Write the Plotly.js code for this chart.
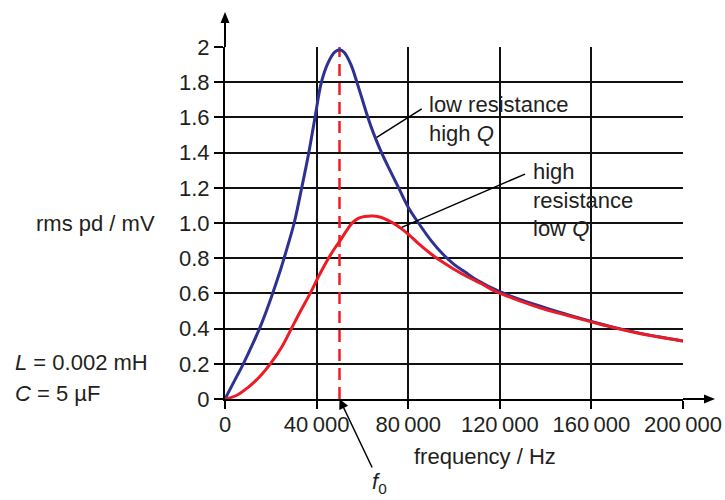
<!DOCTYPE html>
<html>
<head>
<meta charset="utf-8">
<script src="https://cdn.plot.ly/plotly-3.0.1.min.js"></script>
<style>html,body{margin:0;padding:0;background:#fff;}#chart{width:725px;height:500px;}</style>
</head>
<body>
<div id="chart"></div>
<script>
// ---- data ----
var lowRFreq = [0, 4000, 8000, 12000, 16000, 20000, 24000, 27000, 30200, 33500, 36600, 39300, 42100, 45000, 48000, 50000, 52000, 55000, 57600, 60000, 62400, 65000, 68500, 72000, 76000, 80000, 84500, 90000, 95000, 100000, 105000, 110000, 120000, 130000, 140000, 150000, 160000, 170000, 180000, 190000, 200000];
var lowRVolt = [0, 0.10, 0.20, 0.31, 0.43, 0.57, 0.724, 0.853, 1.00, 1.20, 1.40, 1.60, 1.80, 1.91, 1.972, 1.985, 1.97, 1.90, 1.80, 1.70, 1.60, 1.505, 1.395, 1.30, 1.195, 1.09, 1.00, 0.90, 0.825, 0.765, 0.72, 0.676, 0.61, 0.56, 0.518, 0.478, 0.441, 0.407, 0.377, 0.352, 0.33];

var highRFreq = [0, 5000, 10000, 15000, 19800, 25000, 29000, 33000, 37200, 41000, 45200, 48000, 50300, 52500, 55200, 58000, 61000, 64800, 68000, 71000, 74000, 77000, 80000, 85000, 90000, 92500, 95000, 100000, 105000, 108400, 112000, 118600, 125000, 130000, 137500, 150000, 160000, 170000, 180000, 190000, 200000];
var highRVolt = [0, 0.02, 0.065, 0.125, 0.20, 0.30, 0.40, 0.50, 0.60, 0.70, 0.80, 0.858, 0.90, 0.945, 0.995, 1.025, 1.037, 1.04, 1.033, 1.016, 0.995, 0.968, 0.937, 0.877, 0.824, 0.80, 0.778, 0.737, 0.70, 0.678, 0.655, 0.608, 0.576, 0.552, 0.518, 0.473, 0.438, 0.404, 0.375, 0.351, 0.33];

var resonantFreq = 50000;          // f0
var resonantLine = [0, 2];          // dashed marker extent (mV)

var xTickVals = [0, 40000, 80000, 120000, 160000, 200000];
var xTickText = ["0", "40\u2009000", "80\u2009000", "120\u2009000", "160\u2009000", "200\u2009000"];
var yTickVals = [0, 0.2, 0.4, 0.6, 0.8, 1.0, 1.2, 1.4, 1.6, 1.8, 2];
var yTickText = ["0", "0.2", "0.4", "0.6", "0.8", "1.0", "1.2", "1.4", "1.6", "1.8", "2"];

var FONT = "Liberation Sans, Arial, sans-serif";
var INK = "#231f20";
var BLUE = "#2e3192";
var RED = "#ed1c24";

var traces = [
  {x: [resonantFreq, resonantFreq], y: resonantLine, mode: "lines",
   line: {color: RED, width: 2.5, dash: "12px,7px"}, hoverinfo: "skip"},
  {x: lowRFreq, y: lowRVolt, mode: "lines",
   line: {color: BLUE, width: 3, shape: "spline", smoothing: 1}, hoverinfo: "skip"},
  {x: highRFreq, y: highRVolt, mode: "lines",
   line: {color: RED, width: 3, shape: "spline", smoothing: 1}, hoverinfo: "skip"}
];

var layout = {
  width: 725, height: 500,
  margin: {l: 225, r: 42, t: 47, b: 101, pad: 0},
  paper_bgcolor: "#fff", plot_bgcolor: "#fff",
  showlegend: false, hovermode: false,
  font: {family: FONT, size: 22, color: INK},
  xaxis: {
    range: [0, 200000], tickmode: "array", tickvals: xTickVals, ticktext: xTickText,
    showgrid: true, gridcolor: "#111", gridwidth: 2,
    zeroline: false, showline: true, linecolor: "#000", linewidth: 2,
    ticks: "outside", ticklen: 8, tickwidth: 2, tickcolor: "#000",
    ticklabelstandoff: -3,
    tickfont: {family: FONT, size: 22, color: INK}, fixedrange: true
  },
  yaxis: {
    range: [0, 2], tickmode: "array", tickvals: yTickVals, ticktext: yTickText,
    showgrid: true, gridcolor: "#111", gridwidth: 2,
    zeroline: false, showline: true, linecolor: "#000", linewidth: 2,
    ticks: "outside", ticklen: 9, tickwidth: 2, tickcolor: "#000",
    tickfont: {family: FONT, size: 22, color: INK}, fixedrange: true
  },
  shapes: [
    // axis extensions with arrowheads
    {type: "line", xref: "paper", yref: "paper", x0: 0, x1: 0, y0: 1, y1: 1.07,
     line: {color: "#000", width: 2}},
    {type: "path", xref: "paper", yref: "paper", xsizemode: "pixel", ysizemode: "pixel",
     xanchor: 0, yanchor: 1.0994, path: "M0,0 L-4.5,-11 L4.5,-11 Z",
     fillcolor: "#000", line: {width: 0}},
    {type: "line", xref: "paper", yref: "paper", x0: 1, x1: 1.05, y0: 0, y1: 0,
     line: {color: "#000", width: 2}},
    {type: "path", xref: "paper", yref: "paper", xsizemode: "pixel", ysizemode: "pixel",
     xanchor: 1.0699, yanchor: 0, path: "M0,0 L-11,4.5 L-11,-4.5 Z",
     fillcolor: "#000", line: {width: 0}},
    // leader lines to the curve labels
    {type: "line", xref: "x", yref: "y", x0: 66245, y0: 1.487, x1: 85900, y1: 1.648,
     line: {color: "#000", width: 1.5}},
    {type: "line", xref: "x", yref: "y", x0: 77160, y0: 0.975, x1: 131000, y1: 1.278,
     line: {color: "#000", width: 1.5}}
  ],
  annotations: [
    // axis labels
    {xref: "paper", yref: "paper", x: -0.148, y: 0.5, xanchor: "right", yanchor: "middle",
     text: "rms pd / mV", showarrow: false},
    {xref: "paper", yref: "paper", x: 0.567, y: -0.164, xanchor: "center", yanchor: "middle",
     text: "frequency / Hz", showarrow: false},
    {xref: "paper", yref: "paper", x: -0.4635, y: 0.103, xanchor: "left", yanchor: "middle",
     text: "<i>L</i> = 0.002 mH", showarrow: false},
    {xref: "paper", yref: "paper", x: -0.4635, y: 0.016, xanchor: "left", yanchor: "middle",
     text: "<i>C</i> = 5 \u00b5F", showarrow: false},
    // f0 label with arrow
    {x: resonantFreq, y: 0, ax: 40, ay: 84, text: "<i>f</i><sub>0</sub>", showarrow: true,
     arrowhead: 2, arrowsize: 1.3, arrowwidth: 1.5, arrowcolor: "#000"},
    // curve labels
    {x: 88200, y: 1.59, xanchor: "left", yanchor: "middle", align: "left",
     text: "low resistance<br>high <i>Q</i>", showarrow: false},
    {x: 133500, y: 1.131, xanchor: "left", yanchor: "middle", align: "left",
     text: "high<br>resistance<br>low <i>Q</i>", showarrow: false}
  ]
};

Plotly.newPlot("chart", traces, layout, {displayModeBar: false, staticPlot: true});
</script>
</body>
</html>
